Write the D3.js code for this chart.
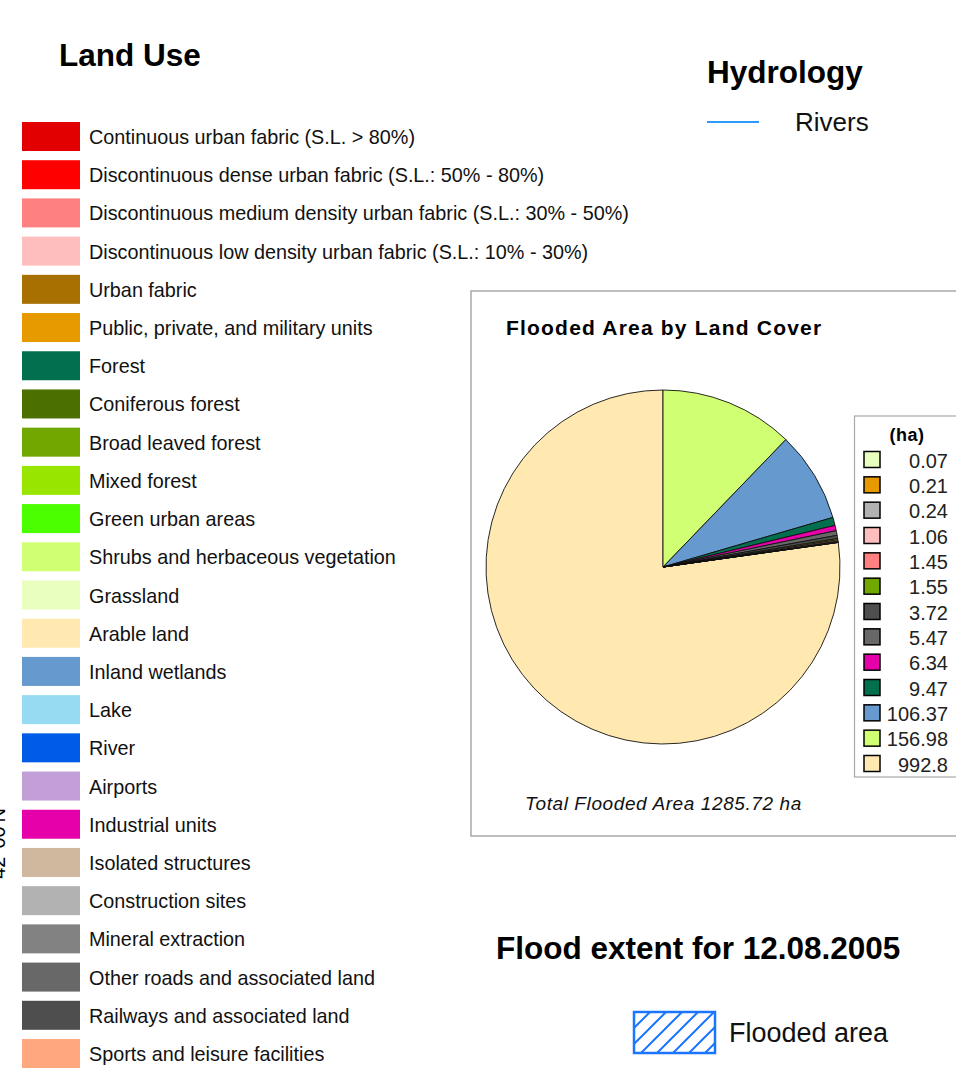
<!DOCTYPE html>
<html>
<head>
<meta charset="utf-8">
<script src="https://cdn.jsdelivr.net/npm/d3@7"></script>
<style>
  body { margin: 0; background: #fff; }
  svg { display: block; font-family: "Liberation Sans", Arial, sans-serif; }
</style>
</head>
<body>
<svg width="956" height="1079"></svg>
<script>
var svg = d3.select("svg"),
    width = +svg.attr("width"),
    height = +svg.attr("height");

// Land use classes and their map colours
var landUseLabels = [
  "Continuous urban fabric (S.L. > 80%)",
  "Discontinuous dense urban fabric (S.L.: 50% - 80%)",
  "Discontinuous medium density urban fabric (S.L.: 30% - 50%)",
  "Discontinuous low density urban fabric (S.L.: 10% - 30%)",
  "Urban fabric",
  "Public, private, and military units",
  "Forest",
  "Coniferous forest",
  "Broad leaved forest",
  "Mixed forest",
  "Green urban areas",
  "Shrubs and herbaceous vegetation",
  "Grassland",
  "Arable land",
  "Inland wetlands",
  "Lake",
  "River",
  "Airports",
  "Industrial units",
  "Isolated structures",
  "Construction sites",
  "Mineral extraction",
  "Other roads and associated land",
  "Railways and associated land",
  "Sports and leisure facilities"
];
var landUseColors = [
  "#e30000", "#ff0000", "#ff8080", "#ffbebe", "#a87000", "#e69a00",
  "#02704e", "#4c7000", "#70a800", "#98e600", "#4cff00", "#d1ff73",
  "#e8ffc0", "#ffe9b0", "#6699cd", "#97dbf2", "#005ce6", "#c39fd8",
  "#e600a9", "#d0b89e", "#b2b2b2", "#828282", "#686868", "#4e4e4e",
  "#ffa77f"
];

// Flooded area per class (ha), in the order of the chart legend
var pieClasses = [
  "Grassland",
  "Public, private, and military units",
  "Construction sites",
  "Discontinuous low density urban fabric (S.L.: 10% - 30%)",
  "Discontinuous medium density urban fabric (S.L.: 30% - 50%)",
  "Broad leaved forest",
  "Railways and associated land",
  "Other roads and associated land",
  "Industrial units",
  "Forest",
  "Inland wetlands",
  "Shrubs and herbaceous vegetation",
  "Arable land"
];
var pieValues = [0.07, 0.21, 0.24, 1.06, 1.45, 1.55, 3.72, 5.47, 6.34, 9.47, 106.37, 156.98, 992.8];
var pieValueLabels = ["0.07", "0.21", "0.24", "1.06", "1.45", "1.55", "3.72", "5.47", "6.34", "9.47", "106.37", "156.98", "992.8"];
var totalLabel = "Total Flooded Area 1285.72 ha";

var color = d3.scaleOrdinal().domain(landUseLabels).range(landUseColors);

// ---------- Land Use legend ----------
svg.append("text")
    .attr("x", 59)
    .attr("y", 66)
    .attr("font-size", 31.5)
    .attr("font-weight", "bold")
    .text("Land Use");

var rowY = d3.scalePoint().domain(landUseLabels).range([122, 1039]);

var rows = svg.append("g").attr("class", "landuse")
  .selectAll("g")
  .data(landUseLabels)
  .enter().append("g")
    .attr("transform", function (d) { return "translate(0," + rowY(d) + ")"; });
rows.append("rect")
    .attr("x", 22)
    .attr("width", 58)
    .attr("height", 29)
    .attr("fill", function (d) { return color(d); });
rows.append("text")
    .attr("x", 89)
    .attr("y", 22)
    .attr("font-size", 19.8)
    .attr("fill", "#111")
    .text(function (d) { return d; });

// clipped latitude label on the map frame
svg.append("text")
    .attr("transform", "translate(5,808) rotate(-90)")
    .attr("text-anchor", "end")
    .attr("font-size", 20)
    .text("42°00'N");

// ---------- Hydrology ----------
svg.append("text")
    .attr("x", 707)
    .attr("y", 83)
    .attr("font-size", 31.5)
    .attr("font-weight", "bold")
    .text("Hydrology");
svg.append("line")
    .attr("x1", 707).attr("x2", 759)
    .attr("y1", 122).attr("y2", 122)
    .attr("stroke", "#2b9bff")
    .attr("stroke-width", 2.2);
svg.append("text")
    .attr("x", 795)
    .attr("y", 131)
    .attr("font-size", 26)
    .attr("fill", "#111")
    .text("Rivers");

// ---------- Pie chart panel ----------
svg.append("rect")
    .attr("x", 471).attr("y", 291)
    .attr("width", 600).attr("height", 545)
    .attr("fill", "#fff")
    .attr("stroke", "#a8a8a8")
    .attr("stroke-width", 1.5);

svg.append("text")
    .attr("x", 506)
    .attr("y", 335)
    .attr("font-size", 21)
    .attr("font-weight", "bold")
    .attr("letter-spacing", 1.2)
    .text("Flooded Area by Land Cover");

var pieData = pieClasses.map(function (c, i) { return { cls: c, value: pieValues[i], label: pieValueLabels[i] }; });
var total = d3.sum(pieValues);
var last = pieData[pieData.length - 1];
// largest class ends at 12 o'clock, the rest follow clockwise in descending order
var start = -2 * Math.PI * last.value / total;
var pie = d3.pie()
    .sort(null)
    .value(function (d) { return d.value; })
    .startAngle(start)
    .endAngle(start + 2 * Math.PI);
var arc = d3.arc().innerRadius(0).outerRadius(177);

svg.append("g")
    .attr("class", "pie")
    .attr("transform", "translate(663,567)")
  .selectAll("path")
  .data(pie(pieData.slice().reverse()))
  .enter().append("path")
    .attr("d", arc)
    .attr("fill", function (d) { return color(d.data.cls); })
    .attr("stroke", "#111")
    .attr("stroke-width", 0.9)
    .attr("stroke-linejoin", "round");

svg.append("text")
    .attr("x", 525)
    .attr("y", 810)
    .attr("font-size", 19)
    .attr("font-style", "italic")
    .attr("letter-spacing", 0.6)
    .attr("fill", "#111")
    .text(totalLabel);

// pie legend box
svg.append("rect")
    .attr("x", 854.5).attr("y", 416)
    .attr("width", 200).attr("height", 361)
    .attr("fill", "#fff")
    .attr("stroke", "#a8a8a8")
    .attr("stroke-width", 1.2);
svg.append("text")
    .attr("x", 907)
    .attr("y", 441)
    .attr("text-anchor", "middle")
    .attr("font-size", 18)
    .attr("font-weight", "bold")
    .attr("letter-spacing", 0.5)
    .text("(ha)");

var legY = d3.scalePoint().domain(d3.range(pieData.length)).range([451, 755]);
var leg = svg.append("g").attr("class", "pie-legend")
  .selectAll("g")
  .data(pieData)
  .enter().append("g")
    .attr("transform", function (d, i) { return "translate(0," + legY(i) + ")"; });
leg.append("rect")
    .attr("x", 864)
    .attr("y", 0.5)
    .attr("width", 16)
    .attr("height", 16)
    .attr("fill", function (d) { return color(d.cls); })
    .attr("stroke", "#000")
    .attr("stroke-width", 1.5);
leg.append("text")
    .attr("x", 948)
    .attr("y", 16.5)
    .attr("text-anchor", "end")
    .attr("font-size", 20)
    .attr("fill", "#222")
    .text(function (d) { return d.label; });

// ---------- Flood extent ----------
svg.append("text")
    .attr("x", 496)
    .attr("y", 959)
    .attr("font-size", 31.5)
    .attr("font-weight", "bold")
    .text("Flood extent for 12.08.2005");

var defs = svg.append("defs");
var hatch = defs.append("pattern")
    .attr("id", "hatch")
    .attr("patternUnits", "userSpaceOnUse")
    .attr("width", 16)
    .attr("height", 16)
    .attr("patternTransform", "translate(634,1012)");
hatch.append("path")
    .attr("d", "M-2,18 L18,-2 M-2,2 L2,-2 M14,18 L18,14")
    .attr("stroke", "#1a75ff")
    .attr("stroke-width", 2);

svg.append("rect")
    .attr("x", 634).attr("y", 1012)
    .attr("width", 81).attr("height", 41)
    .attr("fill", "url(#hatch)")
    .attr("stroke", "#1a75ff")
    .attr("stroke-width", 2.5);
svg.append("text")
    .attr("x", 729)
    .attr("y", 1042)
    .attr("font-size", 27)
    .attr("fill", "#111")
    .text("Flooded area");
</script>
</body>
</html>
